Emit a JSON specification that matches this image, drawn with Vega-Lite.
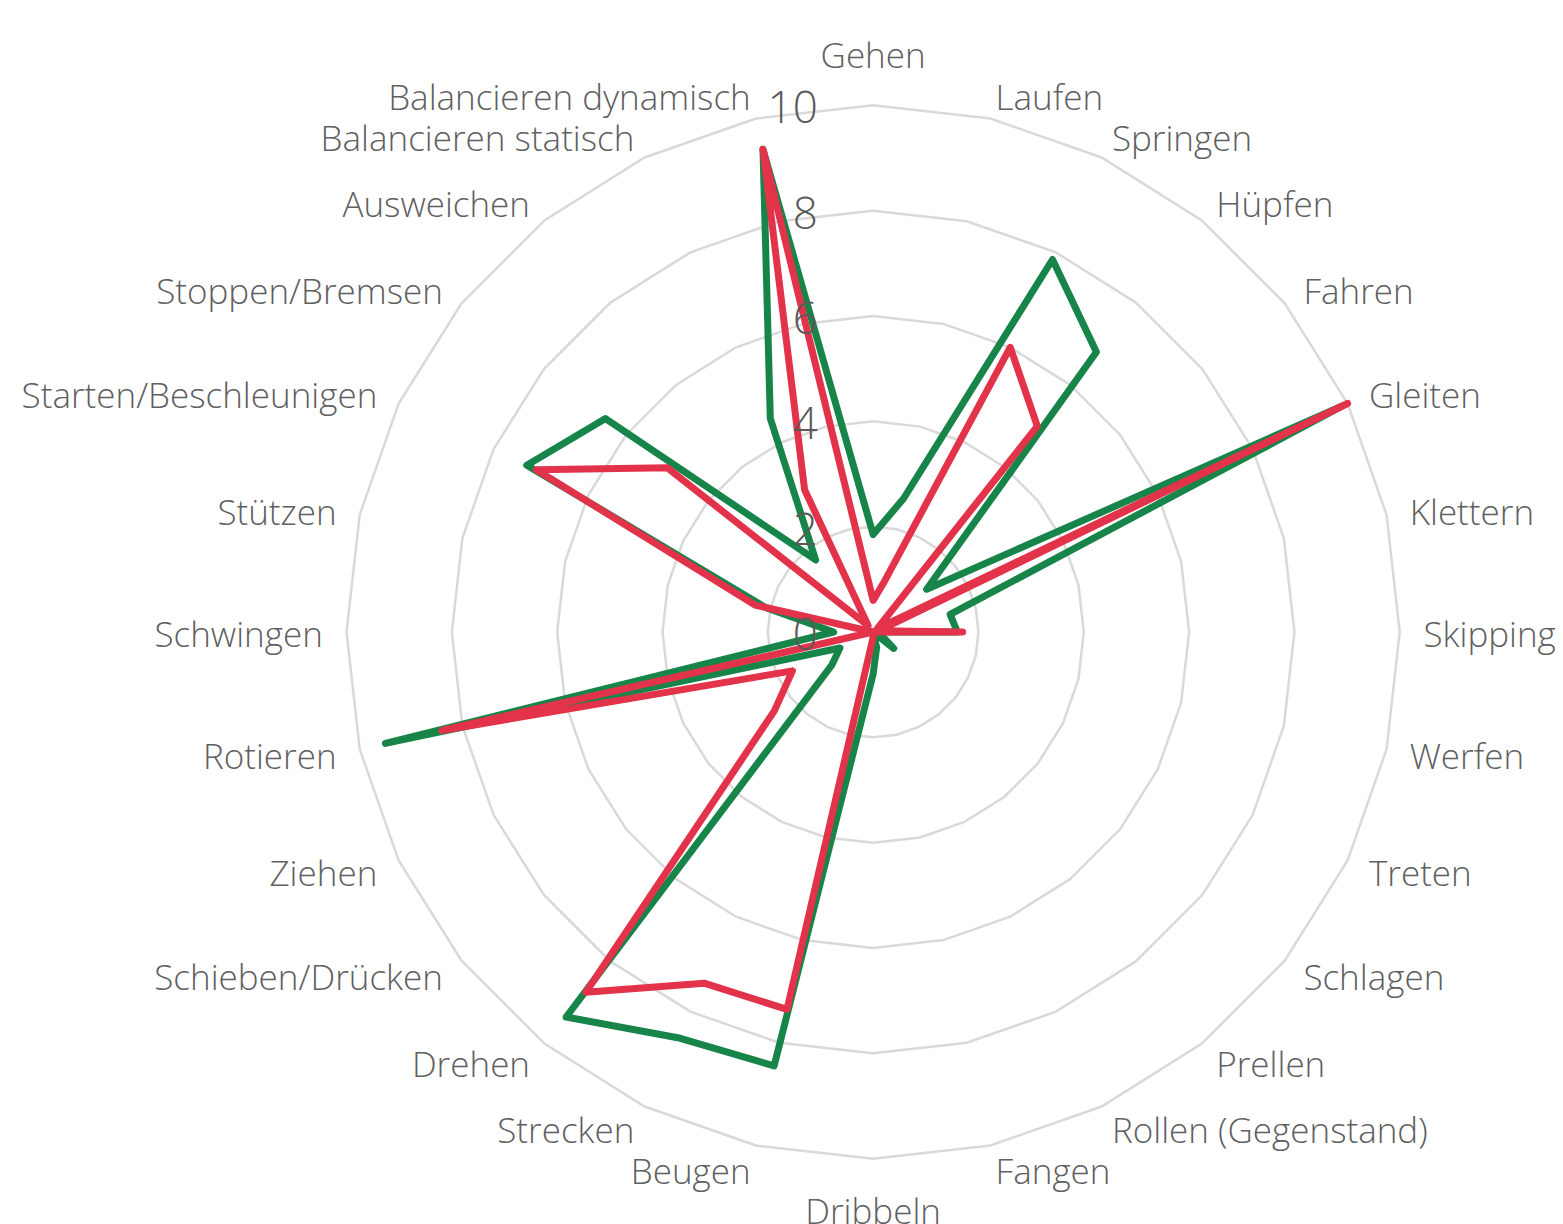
{
  "$schema": "https://vega.github.io/schema/vega-lite/v6.json",
  "width": 1563,
  "height": 1224,
  "padding": 0,
  "autosize": {"type": "none"},
  "background": "white",
  "view": {"stroke": null},
  "config": {"font": "Open Sans"},
  "datasets": {
    "skills": [
      {"i": 0, "cat": "Gehen", "green": 1.85, "red": 0.6},
      {"i": 1, "cat": "Laufen", "green": 2.6, "red": 1.0},
      {"i": 2, "cat": "Springen", "green": 7.85, "red": 6.0},
      {"i": 3, "cat": "Hüpfen", "green": 6.8, "red": 5.0},
      {"i": 4, "cat": "Fahren", "green": 1.3, "red": 0.1},
      {"i": 5, "cat": "Gleiten", "green": 9.9, "red": 10.0},
      {"i": 6, "cat": "Klettern", "green": 1.5, "red": 0.1},
      {"i": 7, "cat": "Skipping", "green": 1.6, "red": 1.7},
      {"i": 8, "cat": "Werfen", "green": 0.0, "red": 0.0},
      {"i": 9, "cat": "Treten", "green": 0.2, "red": 0.0},
      {"i": 10, "cat": "Schlagen", "green": 0.5, "red": 0.0},
      {"i": 11, "cat": "Prellen", "green": 0.0, "red": 0.0},
      {"i": 12, "cat": "Rollen (Gegenstand)", "green": 0.0, "red": 0.0},
      {"i": 13, "cat": "Fangen", "green": 0.3, "red": 0.0},
      {"i": 14, "cat": "Dribbeln", "green": 0.8, "red": 0.1},
      {"i": 15, "cat": "Beugen", "green": 8.45, "red": 7.35},
      {"i": 16, "cat": "Strecken", "green": 8.55, "red": 7.4},
      {"i": 17, "cat": "Drehen", "green": 9.35, "red": 8.75},
      {"i": 18, "cat": "Schieben/Drücken", "green": 1.0, "red": 2.4},
      {"i": 19, "cat": "Ziehen", "green": 0.7, "red": 1.7},
      {"i": 20, "cat": "Rotieren", "green": 9.5, "red": 8.4},
      {"i": 21, "cat": "Schwingen", "green": 0.75, "red": 0.0},
      {"i": 22, "cat": "Stützen", "green": 2.1, "red": 2.3},
      {"i": 23, "cat": "Starten/Beschleunigen", "green": 7.3, "red": 7.1},
      {"i": 24, "cat": "Stoppen/Bremsen", "green": 6.5, "red": 5.0},
      {"i": 25, "cat": "Ausweichen", "green": 1.75, "red": 0.15},
      {"i": 26, "cat": "Balancieren statisch", "green": 4.5, "red": 3.0},
      {"i": 27, "cat": "Balancieren dynamisch", "green": 9.4, "red": 9.4}
    ],
    "ticks": [
      {"v": 0, "t": "0"}, {"v": 2, "t": "2"}, {"v": 4, "t": "4"},
      {"v": 6, "t": "6"}, {"v": 8, "t": "8"}, {"v": 10, "t": "10"}
    ]
  },
  "layer": [
    {
      "data": {"name": "skills"},
      "transform": [
        {"calculate": "[2,4,6,8,10]", "as": "rr"},
        {"flatten": ["rr"], "as": ["ring"]},
        {"calculate": "datum.i * 2 * PI / 28", "as": "a"},
        {"calculate": "datum.ring * sin(datum.a)", "as": "px"},
        {"calculate": "datum.ring * cos(datum.a)", "as": "py"}
      ],
      "mark": {"type": "line", "interpolate": "linear-closed", "stroke": "#d9d9d9", "strokeWidth": 2.5},
      "encoding": {
        "x": {"field": "px", "type": "quantitative", "scale": {"domain": [-16.58, 13.1], "nice": false, "zero": false}, "axis": null},
        "y": {"field": "py", "type": "quantitative", "scale": {"domain": [-11.24, 12.0], "nice": false, "zero": false}, "axis": null},
        "detail": {"field": "ring", "type": "nominal"},
        "order": {"field": "i", "type": "quantitative"}
      }
    },
    {
      "data": {"name": "skills"},
      "transform": [
        {"calculate": "datum.i * 2 * PI / 28", "as": "a"},
        {"calculate": "datum.green * sin(datum.a)", "as": "px"},
        {"calculate": "datum.green * cos(datum.a)", "as": "py"}
      ],
      "mark": {"type": "line", "interpolate": "linear-closed", "stroke": "#17854a", "strokeWidth": 7, "strokeJoin": "round", "strokeCap": "round"},
      "encoding": {
        "x": {"field": "px", "type": "quantitative"},
        "y": {"field": "py", "type": "quantitative"},
        "order": {"field": "i", "type": "quantitative"}
      }
    },
    {
      "data": {"name": "skills"},
      "transform": [
        {"calculate": "datum.i * 2 * PI / 28", "as": "a"},
        {"calculate": "datum.red * sin(datum.a)", "as": "px"},
        {"calculate": "datum.red * cos(datum.a)", "as": "py"}
      ],
      "mark": {"type": "line", "interpolate": "linear-closed", "stroke": "#e2334a", "strokeWidth": 7, "strokeJoin": "round", "strokeCap": "round"},
      "encoding": {
        "x": {"field": "px", "type": "quantitative"},
        "y": {"field": "py", "type": "quantitative"},
        "order": {"field": "i", "type": "quantitative"}
      }
    },
    {
      "data": {"name": "skills"},
      "transform": [
        {"filter": "datum.i >= 1 && datum.i <= 13"},
        {"calculate": "datum.i * 2 * PI / 28", "as": "a"},
        {"calculate": "10.45 * sin(datum.a)", "as": "px"},
        {"calculate": "10.45 * cos(datum.a)", "as": "py"}
      ],
      "mark": {"type": "text", "align": "left", "baseline": "middle", "dy": 4, "fontSize": 35, "fontWeight": 300, "color": "#606060"},
      "encoding": {
        "x": {"field": "px", "type": "quantitative"},
        "y": {"field": "py", "type": "quantitative"},
        "text": {"field": "cat"}
      }
    },
    {
      "data": {"name": "skills"},
      "transform": [
        {"filter": "datum.i >= 15"},
        {"calculate": "datum.i * 2 * PI / 28", "as": "a"},
        {"calculate": "10.45 * sin(datum.a)", "as": "px"},
        {"calculate": "10.45 * cos(datum.a)", "as": "py"}
      ],
      "mark": {"type": "text", "align": "right", "baseline": "middle", "dy": 4, "fontSize": 35, "fontWeight": 300, "color": "#606060"},
      "encoding": {
        "x": {"field": "px", "type": "quantitative"},
        "y": {"field": "py", "type": "quantitative"},
        "text": {"field": "cat"}
      }
    },
    {
      "data": {"name": "skills"},
      "transform": [
        {"filter": "datum.i == 0 || datum.i == 14"},
        {"calculate": "datum.i * 2 * PI / 28", "as": "a"},
        {"calculate": "10.97 * sin(datum.a)", "as": "px"},
        {"calculate": "10.97 * cos(datum.a)", "as": "py"}
      ],
      "mark": {"type": "text", "align": "center", "baseline": "middle", "dy": 3, "fontSize": 35, "fontWeight": 300, "color": "#606060"},
      "encoding": {
        "x": {"field": "px", "type": "quantitative"},
        "y": {"field": "py", "type": "quantitative"},
        "text": {"field": "cat"}
      }
    },
    {
      "data": {"name": "ticks"},
      "mark": {"type": "text", "align": "right", "baseline": "middle", "dy": 5, "fontSize": 44, "fontWeight": 300, "color": "#595959"},
      "encoding": {
        "x": {"datum": -1.05, "type": "quantitative"},
        "y": {"field": "v", "type": "quantitative"},
        "text": {"field": "t"}
      }
    }
  ]
}
